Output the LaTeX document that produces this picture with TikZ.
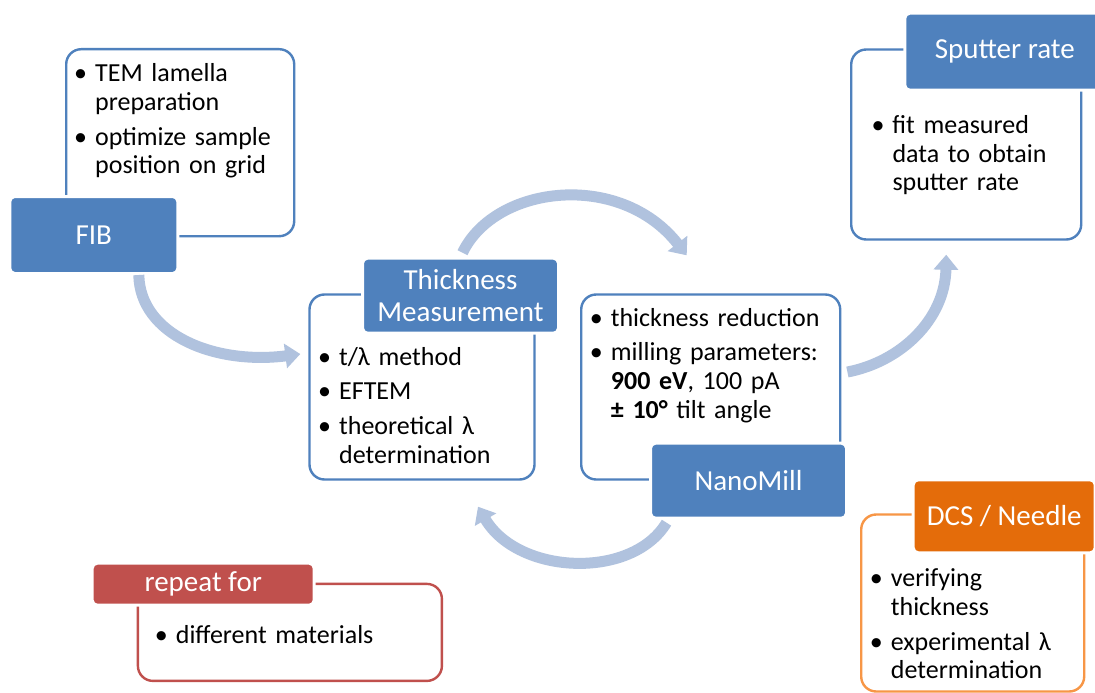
\documentclass[tikz,border=0pt]{standalone}
\usepackage{fontspec}
\setmainfont{Carlito}
\usetikzlibrary{arrows.meta}
\definecolor{accblue}{RGB}{79,129,189}
\definecolor{accorange}{RGB}{228,108,10}
\definecolor{accorangeline}{RGB}{247,150,70}
\definecolor{accred}{RGB}{192,80,77}
\definecolor{flowblue}{RGB}{176,194,222}
\newcommand{\nl}{\hfil\break}
\newcommand{\bitem}[1]{\par\hangindent=21pt\hangafter=1\noindent\makebox[21pt][l]{\textbullet}\strut#1\par\vspace{6pt}}
\tikzset{
  panel/.style={draw=#1, line width=2.4pt, rounded corners=15pt, fill=white, anchor=north west, inner sep=0pt},
  headbox/.style={fill=#1, draw=white, line width=3pt, rounded corners=5pt, anchor=north west, text=white, align=center, font=\fontsize{29}{31.7}\selectfont},
  bullets/.style={anchor=north west, inner sep=0pt, text width=270pt, align=left, font=\fontsize{26}{28.7}\selectfont},
  flow/.style={draw=flowblue, line width=11pt, -{Triangle[length=15pt,width=24pt]}}
}
\begin{document}
\begin{tikzpicture}[x=1pt, y=-1pt]
  \clip (0,0) rectangle (1095,693);
  \fill[white] (0,0) rectangle (1095,693);

  \node[panel=accblue, minimum width=228pt, minimum height=187pt] (fibpanel) at (65,48) {};
  \node[bullets] (fiblist) at (74,53) {\bitem{TEM lamella\nl preparation}\bitem{optimize sample\nl position on grid}};
  \node[headbox=accblue, minimum width=168pt, minimum height=77pt] (fibtitle) at (8.3,195) {FIB};

  \node[panel=accblue, minimum width=230pt, minimum height=190pt] (sputterpanel) at (850,48.3) {};
  \node[bullets] (sputterlist) at (871.3,104.6) {\bitem{fit measured\nl data to obtain\nl sputter rate}};
  \node[headbox=accblue, minimum width=200pt, minimum height=77pt] (sputtertitle) at (903.3,11.7) {Sputter rate};

  \node[panel=accblue, minimum width=225pt, minimum height=185pt] (thickpanel) at (308.3,293.3) {};
  \node[bullets] (thicklist) at (318,336.2) {\bitem{t/λ method}\bitem{EFTEM}\bitem{theoretical λ\nl determination}};
  \node[headbox=accblue, minimum width=196pt, minimum height=75pt] (thicktitle) at (361,256.7) {Thickness\\Measurement};

  \node[panel=accblue, minimum width=259pt, minimum height=185pt] (nanopanel) at (580,293.3) {};
  \node[bullets] (nanolist) at (589.7,297.2) {\bitem{thickness reduction}\bitem{milling parameters:\nl \textbf{900 eV}, 100 pA\nl \textbf{± 10°} tilt angle}};
  \node[headbox=accblue, minimum width=196pt, minimum height=75pt] (nanotitle) at (649,441.7) {NanoMill};

  \node[panel=accorangeline, minimum width=223pt, minimum height=177pt] (dcspanel) at (860,513.3) {};
  \node[bullets] (dcslist) at (869.7,557.9) {\bitem{verifying\nl thickness}\bitem{experimental λ\nl determination}};
  \node[headbox=accorange, minimum width=182pt, minimum height=73pt] (dcstitle) at (911.7,478.3) {DCS / Needle};

  \node[panel=accred, minimum width=304pt, minimum height=97pt] (repeatpanel) at (136.7,582.7) {};
  \node[bullets] (repeatlist) at (154.7,614.6) {\bitem{different materials}};
  \node[headbox=accred, minimum width=222pt, minimum height=42pt] (repeattitle) at (90.7,561.7) {repeat for};

  \draw[flow] ([xshift=45pt]fibtitle.south) .. controls (140,335) and (215,365) .. ([xshift=-8pt,yshift=33pt]thickpanel.west);
  \draw[flow] ([xshift=2pt,yshift=4pt]thicktitle.north) .. controls (495,185) and (620,170) .. ([xshift=-24pt,yshift=38pt]nanopanel.north);
  \draw[flow] ([xshift=6pt,yshift=15pt]nanopanel.east) .. controls (900,362) and (945,320) .. ([xshift=-20pt,yshift=-14pt]sputterpanel.south);
  \draw[flow] ([xshift=-82pt,yshift=-3pt]nanotitle.south) .. controls (632,580) and (518,575) .. ([xshift=56pt,yshift=-26pt]thickpanel.south);
\end{tikzpicture}
\end{document}
